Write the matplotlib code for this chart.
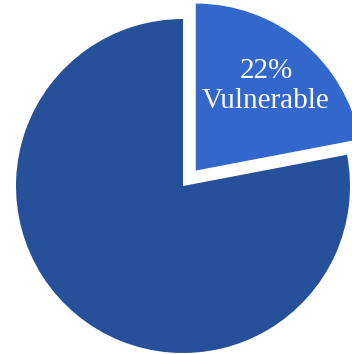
import matplotlib.pyplot as plt

labels = ['22%\nVulnerable', '']
values = [22, 78]
colors = ['#3367CB', '#27509B']
explode = [0.12, 0]

fig = plt.figure(figsize=(3.52, 3.54), dpi=100)
ax = fig.add_axes([0, 0, 1, 1])

wedges, texts = ax.pie(values, labels=labels, colors=colors, explode=explode,
                       startangle=90, counterclock=False, labeldistance=0.66,
                       wedgeprops=dict(linewidth=0))

for t in texts:
    t.set_color('white')
    t.set_ha('center')
    t.set_va('center')
    t.set_fontfamily('Liberation Serif')
    t.set_fontsize(21)
    t.set_linespacing(1.2)

# pie centre sits a bit left of and below the middle of the image
ax.set_aspect('auto')
ax.set_xlim(-183 / 167, (352 - 183) / 167)
ax.set_ylim(-(354 - 186) / 167, 186 / 167)
ax.axis('off')

fig.savefig('out.png', dpi=100)
